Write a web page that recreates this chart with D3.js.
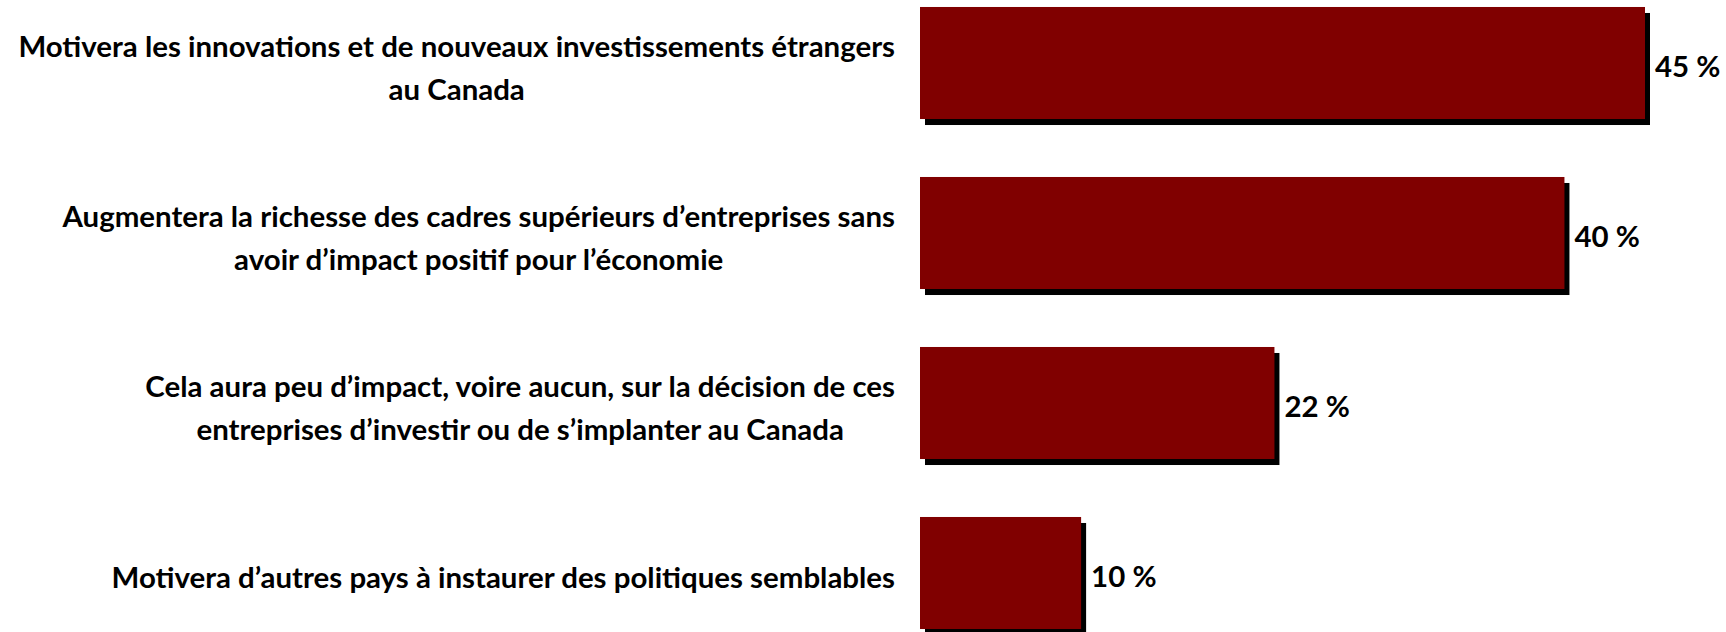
<!DOCTYPE html>
<html>
<head>
<meta charset="utf-8">
<script src="https://cdn.jsdelivr.net/npm/d3@7"></script>
<style>
  html, body { margin: 0; padding: 0; background: #fff; }
  svg { display: block; }
  text { font-family: Lato, "Open Sans", sans-serif; font-weight: 700; fill: #000; }
</style>
</head>
<body>
<svg id="chart" width="1726" height="632"></svg>
<script>
// ---- data ----
const categories = [
  "Motivera les innovations et de nouveaux investissements étrangers au Canada",
  "Augmentera la richesse des cadres supérieurs d’entreprises sans avoir d’impact positif pour l’économie",
  "Cela aura peu d’impact, voire aucun, sur la décision de ces entreprises d’investir ou de s’implanter au Canada",
  "Motivera d’autres pays à instaurer des politiques semblables"
];
const labelLines = [
  ["Motivera les innovations et de nouveaux investissements étrangers", "au Canada"],
  ["Augmentera la richesse des cadres supérieurs d’entreprises sans", "avoir d’impact positif pour l’économie"],
  ["Cela aura peu d’impact, voire aucun, sur la décision de ces", "entreprises d’investir ou de s’implanter au Canada"],
  ["Motivera d’autres pays à instaurer des politiques semblables"]
];
const values = [45, 40, 22, 10];
const valueLabels = ["45 %", "40 %", "22 %", "10 %"];

// ---- layout ----
const svg = d3.select("#chart");
const barColor = "#800000";
const shadowDx = 5, shadowDy = 6;
const labelRight = 895;
const targetLongest = 877;   // width of the longest label line
const lineGap = 43;

const x = d3.scaleLinear().domain([0, 45]).range([920, 1645]);
const y = d3.scaleBand().domain(categories).range([-22, 658])
  .paddingInner(0.341).paddingOuter(0.1705);

// fit font size
const probe = svg.append("text").attr("font-size", 100).text(labelLines[0][0]);
const w100 = probe.node().getComputedTextLength();
probe.remove();
const fontSize = 100 * targetLongest / w100;

// shadows
svg.append("g").selectAll("rect").data(categories).join("rect")
  .attr("x", d => x(0) + shadowDx)
  .attr("y", d => y(d) + shadowDy)
  .attr("width", (d, i) => x(values[i]) - x(0))
  .attr("height", y.bandwidth())
  .attr("fill", "#000");

// bars
svg.append("g").selectAll("rect").data(categories).join("rect")
  .attr("x", x(0))
  .attr("y", d => y(d))
  .attr("width", (d, i) => x(values[i]) - x(0))
  .attr("height", y.bandwidth())
  .attr("fill", barColor);

// value labels
svg.append("g").selectAll("text").data(categories).join("text")
  .attr("x", (d, i) => x(values[i]) + 10)
  .attr("y", d => y(d) + y.bandwidth() / 2 + 4)
  .attr("dy", "0.35em")
  .attr("font-size", fontSize)
  .text((d, i) => valueLabels[i]);

// category labels
const lg = svg.append("g");
categories.forEach((c, i) => {
  const lines = labelLines[i];
  const g = lg.append("g");
  const texts = lines.map(l => g.append("text").attr("font-size", fontSize).text(l));
  const widths = texts.map(t => t.node().getComputedTextLength());
  const maxW = d3.max(widths);
  const cx = labelRight - maxW / 2;
  const cy = y(c) + y.bandwidth() / 2 + 5;
  const n = lines.length;
  texts.forEach((t, k) => {
    t.attr("x", cx).attr("text-anchor", "middle")
     .attr("y", cy + (k - (n - 1) / 2) * lineGap)
     .attr("dy", "0.35em");
  });
});
</script>
</body>
</html>
